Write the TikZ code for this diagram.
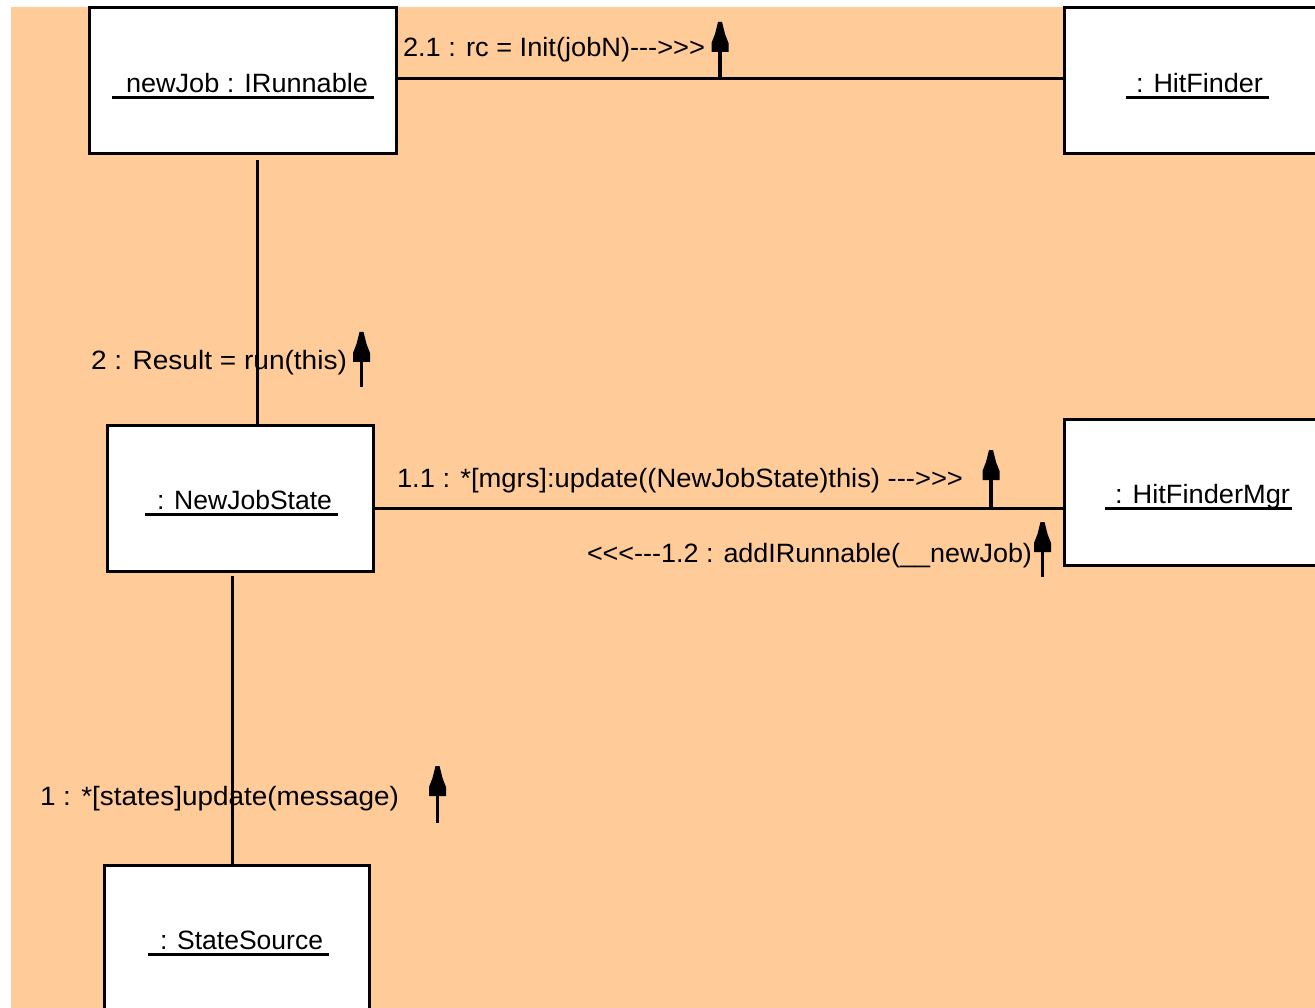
\documentclass[tikz,border=0pt]{standalone}
\usepackage{fontspec}
\setmainfont{Liberation Sans}
\usepackage{graphicx}
\definecolor{canvas}{RGB}{255,204,153}
% stretch or squeeze a text to a given width, keeping its height
\newcommand\fitw[2]{\resizebox{#1}{\height}{#2}}

\begin{document}
\begin{tikzpicture}[x=1pt,y=-1pt,
  objbox/.style={draw=black, line width=3pt, fill=white, inner sep=0pt},
  link/.style={draw=black, line width=3pt},
  uline/.style={draw=black, line width=3pt},
  txt/.style={anchor=base west, inner sep=0pt, outer sep=0pt,
              font=\fontsize{26.5}{30}\selectfont},
  % message direction marker: tip at the origin, stem running down to #1
  msgdir/.pic={
    \fill (-1.75,28) rectangle (1.75,#1);
    \fill (-2,0) -- (2,0) -- (5,12) -- (8.5,21) -- (8.5,30)
          -- (-8.5,30) -- (-8.5,21) -- (-5,12) -- cycle;
  }]
\useasboundingbox (0,0) rectangle (1315,1008);
\clip (0,0) rectangle (1315,1008);
\fill[canvas] (11,7) rectangle (1315,1008);

% objects
\node[objbox, minimum width=306.5pt, minimum height=146pt] (job) at (242.75,81) {};
\node[objbox, minimum width=335.5pt, minimum height=146pt] (hf)  at (1232.25,81) {};
\node[objbox, minimum width=265.5pt, minimum height=145.5pt] (nj) at (240.25,498.25) {};
\node[objbox, minimum width=335.5pt, minimum height=146pt] (hfm) at (1232.25,492.5) {};
\node[objbox, minimum width=265pt, minimum height=234.5pt] (ss) at (237,982.75) {};

% object names, underlined
\node[txt] (jobn) at (126,93)  {\fitw{242pt}{newJob : IRunnable}};
\node[txt] (hfn)  at (1136,93) {\fitw{127pt}{: HitFinder}};
\node[txt] (njn)  at (157,509) {\fitw{175pt}{: NewJobState}};
\node[txt] (hfmn) at (1115,503) {\fitw{175pt}{: HitFinderMgr}};
\node[txt] (ssn)  at (160,949) {\fitw{163pt}{: StateSource}};
\draw[uline] ([xshift=-14pt,yshift=-4.5pt]jobn.base west) -- ([xshift=6pt,yshift=-4.5pt]jobn.base east);
\draw[uline] ([xshift=-10pt,yshift=-4.5pt]hfn.base west) -- ([xshift=6pt,yshift=-4.5pt]hfn.base east);
\draw[uline] ([xshift=-12pt,yshift=-5pt]njn.base west) -- ([xshift=6pt,yshift=-5pt]njn.base east);
\draw[uline] ([xshift=-10pt,yshift=-5pt]hfmn.base west) -- ([xshift=2pt,yshift=-5pt]hfmn.base east);
\draw[uline] ([xshift=-12pt,yshift=-5pt]ssn.base west) -- ([xshift=6pt,yshift=-5pt]ssn.base east);

% links
\draw[link] (job.east |- 0,79) -- (hf.west |- 0,79);
\draw[link] ([yshift=-5pt]job.south -| 257,0) -- (nj.north -| 257,0);
\draw[link] (nj.east |- 0,508) -- (hfm.west |- 0,508);
\draw[link] ([yshift=-3pt]nj.south -| 232,0) -- (ss.north -| 232,0);

% messages
\node[txt] (m21) at (403,57)  {\fitw{302pt}{2.1 : rc = Init(jobN)-{}-{}->{}>{}>}};
\node[txt] (m2)  at (91,369)  {\fitw{256pt}{2 : Result = run(this)}};
\node[txt] (m11) at (397,487) {\fitw{566pt}{1.1 : *[mgrs]:update((NewJobState)this) -{}-{}->{}>{}>}};
\node[txt] (m12) at (587,562) {\fitw{445pt}{<{}<{}<{}-{}-{}-1.2 : addIRunnable(\_\_newJob)}};
\node[txt] (m1)  at (40,805)  {\fitw{359pt}{1 : *[states]update(message)}};

\pic at (720,22)   {msgdir=57};
\pic at (361.5,332) {msgdir=55};
\pic at (991,450)  {msgdir=58};
\pic at (1042.5,522) {msgdir=55};
\pic at (437.5,766) {msgdir=57};
\end{tikzpicture}
\end{document}
